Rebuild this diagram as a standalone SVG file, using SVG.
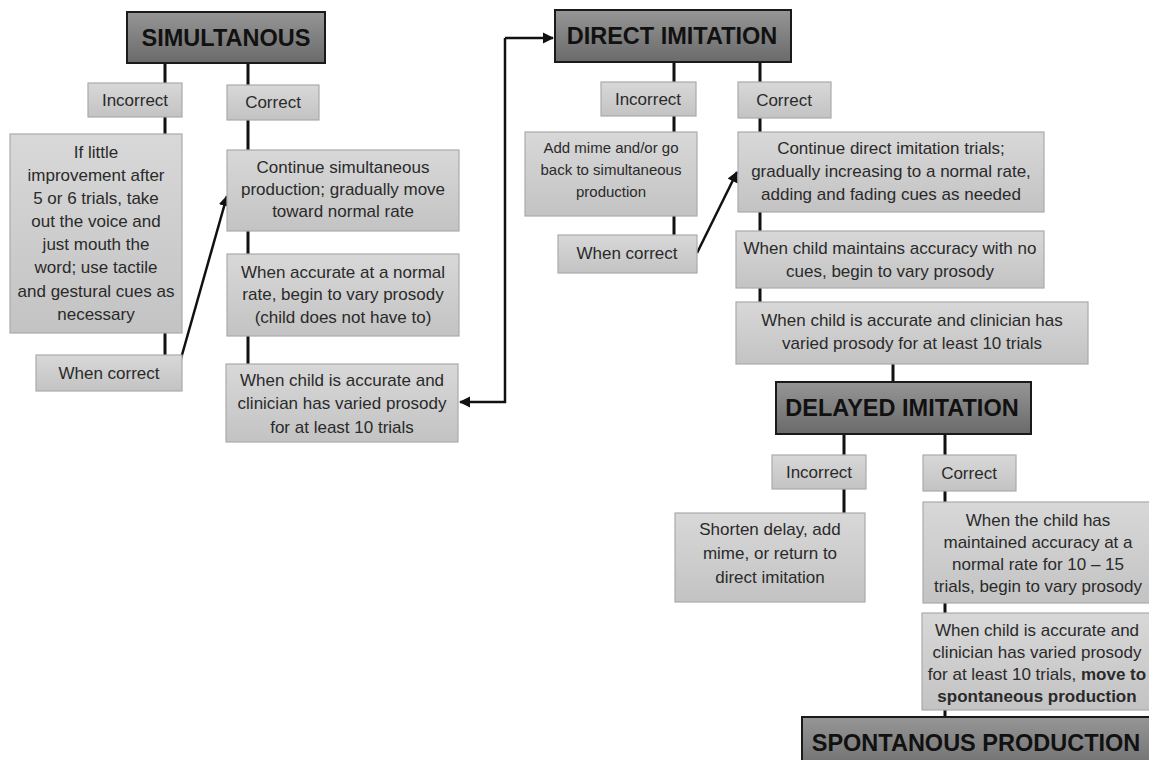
<svg xmlns="http://www.w3.org/2000/svg" width="1149" height="760" viewBox="0 0 1149 760">
<style>
.box{fill:url(#gL);stroke:#ababab;stroke-width:1.2}
.hdr{fill:url(#gH);stroke:#1a1a1a;stroke-width:2}
.t{font-family:"Liberation Sans",Arial,sans-serif;font-size:17px;fill:#2a2a2a;text-anchor:middle}
.s{font-size:15px}
.h{font-family:"Liberation Sans",Arial,sans-serif;font-size:23.5px;font-weight:bold;fill:#111;text-anchor:middle}
.c{stroke:#111;stroke-width:3;fill:none}
.a{stroke:#111;stroke-width:2.5;fill:none;marker-end:url(#ah)}
</style>
<defs>
<linearGradient id="gL" x1="0" y1="0" x2="0" y2="1"><stop offset="0" stop-color="#d8d8d8"/><stop offset="1" stop-color="#c3c3c3"/></linearGradient>
<linearGradient id="gH" x1="0" y1="0" x2="0" y2="1"><stop offset="0" stop-color="#969696"/><stop offset="1" stop-color="#6a6a6a"/></linearGradient>
<marker id="ah" viewBox="0 0 10 10" refX="9" refY="5" markerWidth="4.5" markerHeight="4.5" orient="auto"><path d="M0,0 L10,5 L0,10 z" fill="#111"/></marker>
</defs>
<rect width="1149" height="760" fill="#fff"/>
<g id="connectors">
<path class="c" d="M165,63V83 M248,63V85 M165,117V134 M248,120V150 M248,231V254 M248,336V364 M165,333V355"/>
<path class="c" d="M674,62V82 M760,62V82 M674,116V132 M760,118V132 M674,216V235 M760,212V231 M760,288V302 M893,364V382"/>
<path class="c" d="M844,434V455 M945,434V455 M844,489V513 M945,491V502 M945,603V613 M945,710V717"/>
<path class="a" d="M180,362 L227,196"/>
<path class="a" d="M697,253 L737,172"/>
<path class="a" d="M505,38 H553"/>
<path class="a" d="M505,38 V402 H460"/>
</g>
<g id="simultanous"><rect class="hdr" x="127" y="12" width="198" height="51"/><text class="h" x="226" y="46">SIMULTANOUS</text></g>
<g id="sim-incorrect"><rect class="box" x="88" y="83" width="94" height="34"/><text class="t" x="135" y="106">Incorrect</text></g>
<g id="sim-correct"><rect class="box" x="227" y="85" width="92" height="35"/><text class="t" x="273" y="108">Correct</text></g>
<g id="sim-little"><rect class="box" x="10" y="134" width="172" height="199"/>
<text class="t" x="96"><tspan x="96" y="158">If little</tspan><tspan x="96" y="181">improvement after</tspan><tspan x="96" y="204">5 or 6 trials, take</tspan><tspan x="96" y="227">out the voice and</tspan><tspan x="96" y="250">just mouth the</tspan><tspan x="96" y="273">word; use tactile</tspan><tspan x="96" y="297">and gestural cues as</tspan><tspan x="96" y="320">necessary</tspan></text></g>
<g id="sim-when-correct"><rect class="box" x="36" y="355" width="146" height="36"/><text class="t" x="109" y="379">When correct</text></g>
<g id="sim-continue"><rect class="box" x="227" y="150" width="232" height="81"/>
<text class="t"><tspan x="343" y="173">Continue simultaneous</tspan><tspan x="343" y="195">production; gradually move</tspan><tspan x="343" y="217">toward normal rate</tspan></text></g>
<g id="sim-accurate"><rect class="box" x="227" y="254" width="232" height="82"/>
<text class="t"><tspan x="343" y="278">When accurate at a normal</tspan><tspan x="343" y="300">rate, begin to vary prosody</tspan><tspan x="343" y="323">(child does not have to)</tspan></text></g>
<g id="sim-child"><rect class="box" x="226" y="364" width="232" height="78"/>
<text class="t"><tspan x="342" y="386">When child is accurate and</tspan><tspan x="342" y="409">clinician has varied prosody</tspan><tspan x="342" y="433">for at least 10 trials</tspan></text></g>

<g id="direct"><rect class="hdr" x="555" y="10" width="236" height="52"/><text class="h" x="672" y="44">DIRECT IMITATION</text></g>
<g id="dir-incorrect"><rect class="box" x="601" y="82" width="95" height="34"/><text class="t" x="648" y="105">Incorrect</text></g>
<g id="dir-correct"><rect class="box" x="738" y="82" width="93" height="36"/><text class="t" x="784" y="106">Correct</text></g>
<g id="dir-mime"><rect class="box" x="525" y="132" width="172" height="84"/>
<text class="t s"><tspan x="611" y="153">Add mime and/or go</tspan><tspan x="611" y="175">back to simultaneous</tspan><tspan x="611" y="197">production</tspan></text></g>
<g id="dir-when-correct"><rect class="box" x="558" y="235" width="139" height="38"/><text class="t" x="627" y="259">When correct</text></g>
<g id="dir-continue"><rect class="box" x="738" y="132" width="306" height="80"/>
<text class="t"><tspan x="891" y="154">Continue direct imitation trials;</tspan><tspan x="891" y="177">gradually increasing to a normal rate,</tspan><tspan x="891" y="200">adding and fading cues as needed</tspan></text></g>
<g id="dir-maintains"><rect class="box" x="736" y="231" width="308" height="57"/>
<text class="t"><tspan x="890" y="254">When child maintains accuracy with no</tspan><tspan x="890" y="277">cues, begin to vary prosody</tspan></text></g>
<g id="dir-child"><rect class="box" x="736" y="302" width="352" height="62"/>
<text class="t"><tspan x="912" y="326">When child is accurate and clinician has</tspan><tspan x="912" y="349">varied prosody for at least 10 trials</tspan></text></g>

<g id="delayed"><rect class="hdr" x="776" y="382" width="255" height="52"/><text class="h" x="902" y="416">DELAYED IMITATION</text></g>
<g id="del-incorrect"><rect class="box" x="772" y="455" width="94" height="34"/><text class="t" x="819" y="478">Incorrect</text></g>
<g id="del-correct"><rect class="box" x="923" y="455" width="93" height="36"/><text class="t" x="969" y="479">Correct</text></g>
<g id="del-shorten"><rect class="box" x="675" y="513" width="190" height="89"/>
<text class="t"><tspan x="770" y="535">Shorten delay, add</tspan><tspan x="770" y="559">mime, or return to</tspan><tspan x="770" y="583">direct imitation</tspan></text></g>
<g id="del-maintained"><rect class="box" x="923" y="502" width="230" height="101"/>
<text class="t"><tspan x="1038" y="526">When the child has</tspan><tspan x="1038" y="548">maintained accuracy at a</tspan><tspan x="1038" y="570">normal rate for 10 – 15</tspan><tspan x="1038" y="592">trials, begin to vary prosody</tspan></text></g>
<g id="del-child"><rect class="box" x="922" y="613" width="231" height="97"/>
<text class="t"><tspan x="1037" y="636">When child is accurate and</tspan><tspan x="1037" y="658">clinician has varied prosody</tspan><tspan x="1037" y="680">for at least 10 trials, <tspan font-weight="bold">move to</tspan></tspan><tspan x="1037" y="702" font-weight="bold">spontaneous production</tspan></text></g>

<g id="spontanous"><rect class="hdr" x="802" y="717" width="350" height="60"/><text class="h" x="976" y="751">SPONTANOUS PRODUCTION</text></g>
</svg>
